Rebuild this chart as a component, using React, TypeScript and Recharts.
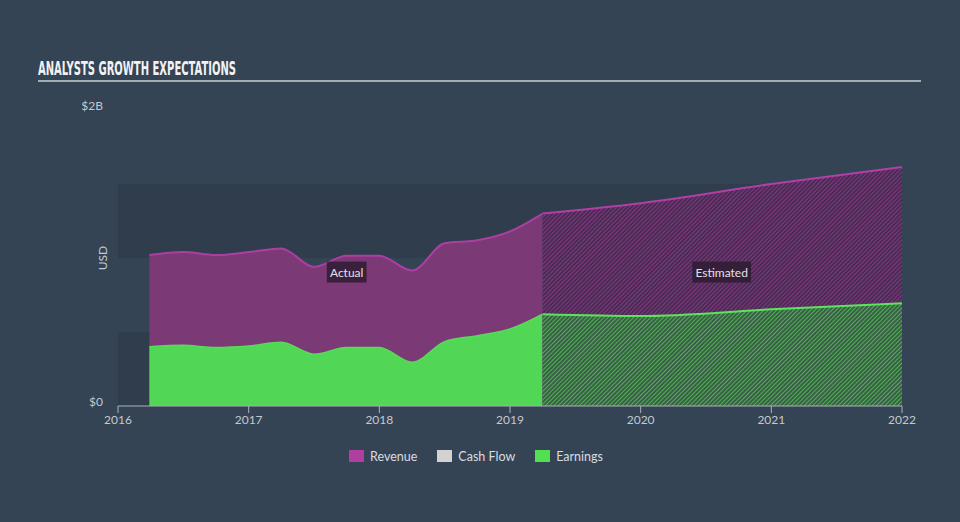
import React from 'react';
import { ComposedChart, Area, XAxis, YAxis, ReferenceArea, ReferenceDot } from 'recharts';

// quarterly actuals (USD billions)
const actualYears = [2016.24, 2016.5, 2016.75, 2017.0, 2017.25, 2017.5, 2017.75, 2018.0, 2018.25, 2018.5, 2018.75, 2019.0, 2019.25];
const actualRevenue = [1.02, 1.04, 1.02, 1.04, 1.065, 0.94, 1.015, 1.015, 0.915, 1.1, 1.12, 1.18, 1.3];
const actualEarnings = [0.4, 0.41, 0.395, 0.405, 0.43, 0.35, 0.395, 0.395, 0.295, 0.435, 0.475, 0.52, 0.62];

// analyst estimates
const estYears = [2019.25, 2020, 2021, 2022];
const estRevenue = [1.3, 1.37, 1.5, 1.615];
const estEarnings = [0.62, 0.608, 0.653, 0.694];

const xTicks = [2016, 2017, 2018, 2019, 2020, 2021, 2022];
const yTicks = [0, 2];
// darker background bands [from, to]
const bands = [[0, 0.5], [1, 1.5]];

const phaseTags = [
  { label: 'Actual', x: 2017.75, y: 0.905 },
  { label: 'Estimated', x: 2020.62, y: 0.905 },
];

const legendItems = [
  { name: 'Revenue', color: '#b0409f' },
  { name: 'Cash Flow', color: '#d2d2d2' },
  { name: 'Earnings', color: '#52e052' },
];

const BG = '#344454';
const BAND = '#2f3d4c';
const FONT = 'Lato, "Open Sans", sans-serif';

// merge into one table for the numeric x axis
const years = Array.from(new Set([...actualYears, ...estYears])).sort((a, b) => a - b);
const data = years.map(x => {
  const ai = actualYears.indexOf(x);
  const ei = estYears.indexOf(x);
  return {
    x,
    revA: ai >= 0 ? actualRevenue[ai] : null,
    earnA: ai >= 0 ? actualEarnings[ai] : null,
    revE: ei >= 0 ? estRevenue[ei] : null,
    earnE: ei >= 0 ? estEarnings[ei] : null,
  };
});

const YTick = ({ x, y, payload }: any) => (
  <text x={x} y={y - 3} textAnchor="end" dominantBaseline="middle" fill="#c3c9cf" fontSize={12} fontFamily={FONT}>
    {payload.value === 0 ? '$0' : `$${payload.value}B`}
  </text>
);

const UsdLabel = ({ viewBox }: any) => {
  const cx = viewBox.x + viewBox.width - 14;
  const cy = viewBox.y + viewBox.height / 2;
  return (
    <text x={cx} y={cy} transform={`rotate(-90 ${cx} ${cy})`} textAnchor="middle" dominantBaseline="middle" fill="#c3c9cf" fontSize={12} fontFamily={FONT}>
      USD
    </text>
  );
};

const PhaseTag = (text: string) => (props: any) => {
  const { cx, cy } = props;
  const w = text.length * 6.3 + 2;
  return (
    <g>
      <rect x={cx - w / 2} y={cy - 10.5} width={w} height={21} fill="#2a1a2e" fillOpacity={0.8} />
      <text x={cx} y={cy} textAnchor="middle" dominantBaseline="central" fill="#e2e2e6" fontSize={12} fontFamily={FONT}>
        {text}
      </text>
    </g>
  );
};

export default function App() {
  return (
    <div style={{ position: 'absolute', left: 0, top: 0, width: 960, height: 522, background: BG, overflow: 'hidden' }}>
      <svg width={960} height={90} style={{ position: 'absolute', left: 0, top: 0 }}>
        <text x={38} y={75} fill="#f2f2f2" fontSize={20} fontWeight="bold" fontFamily='"DejaVu Sans Condensed", "DejaVu Sans", sans-serif' textLength={198} lengthAdjust="spacingAndGlyphs">
          ANALYSTS GROWTH EXPECTATIONS
        </text>
        <rect x={38} y={80} width={883} height={2} fill="#a3abb3" />
      </svg>

      <div style={{ position: 'absolute', left: 0, top: 0 }}>
        <ComposedChart width={960} height={440} data={data} margin={{ top: 110, right: 58, left: 58, bottom: 4 }}>
          <defs>
            <pattern id="revHatch" patternUnits="userSpaceOnUse" width={3} height={3} patternTransform="rotate(45)">
              <rect width={3} height={3} fill="#4a2b54" />
              <line x1={0} y1={0} x2={0} y2={3} stroke="#8e3c8a" strokeWidth={1.6} />
            </pattern>
            <pattern id="earnHatch" patternUnits="userSpaceOnUse" width={3} height={3} patternTransform="rotate(45)">
              <rect width={3} height={3} fill="#3a5e48" />
              <line x1={0} y1={0} x2={0} y2={3} stroke="#58c45a" strokeWidth={1.6} />
            </pattern>
          </defs>
          {bands.map(([y1, y2]) => (
            <ReferenceArea key={y1} x1={2016} x2={2022} y1={y1} y2={y2} fill={BAND} fillOpacity={1} stroke="none" />
          ))}
          <XAxis
            type="number"
            dataKey="x"
            domain={[2016, 2022]}
            ticks={xTicks}
            allowDataOverflow
            stroke="#aab2ba"
            tickSize={7}
            tick={{ fill: '#c3c9cf', fontSize: 12, fontFamily: FONT }}
            height={30}
          />
          <YAxis domain={[0, 2]} ticks={yTicks} axisLine={false} tickLine={false} tick={<YTick />} width={60} tickSize={0} tickMargin={15} label={<UsdLabel />} />

          <Area type="monotone" dataKey="revA" fill="#7b3a76" fillOpacity={1} stroke="#ac3ea3" strokeWidth={2} isAnimationActive={false} />
          <Area type="monotone" dataKey="earnA" fill="#52d655" fillOpacity={1} stroke="#56dc58" strokeWidth={1.5} isAnimationActive={false} />
          <Area type="monotone" dataKey="revE" fill="url(#revHatch)" fillOpacity={1} stroke="#b040a6" strokeWidth={2} isAnimationActive={false} />
          <Area type="monotone" dataKey="earnE" fill="url(#earnHatch)" fillOpacity={1} stroke="#5de35d" strokeWidth={2} isAnimationActive={false} />

          {phaseTags.map(t => (
            <ReferenceDot key={t.label} x={t.x} y={t.y} r={0} shape={PhaseTag(t.label)} />
          ))}
        </ComposedChart>
      </div>

      <div style={{ position: 'absolute', left: -4, top: 448, width: 960, display: 'flex', justifyContent: 'center', gap: 20, fontFamily: FONT, fontSize: 12.5, color: '#d8dce0' }}>
        {legendItems.map(item => (
          <div key={item.name} style={{ display: 'flex', alignItems: 'center', gap: 6, height: 16 }}>
            <span style={{ display: 'inline-block', width: 15, height: 12, background: item.color }} />
            <span>{item.name}</span>
          </div>
        ))}
      </div>
    </div>
  );
}
